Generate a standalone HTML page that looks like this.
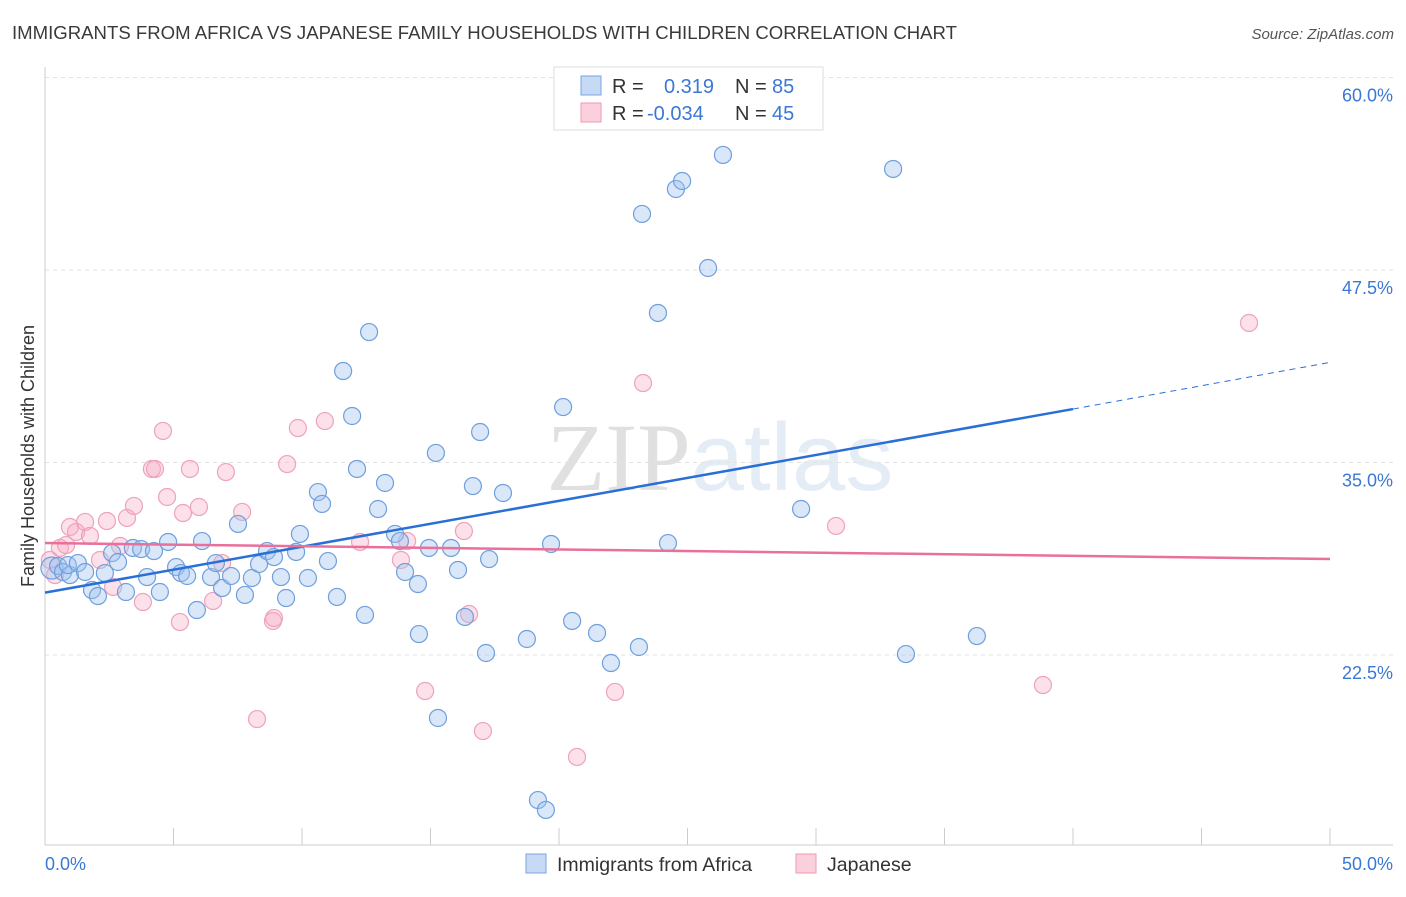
<!DOCTYPE html>
<html><head><meta charset="utf-8"><style>
body{margin:0;background:#fff;font-family:"Liberation Sans",sans-serif;}
svg text{font-family:"Liberation Sans",sans-serif;}
</style></head><body>
<svg id="chart" width="1406" height="892" xmlns="http://www.w3.org/2000/svg">
<text x="12" y="39" font-size="18" fill="#3a3a3a" textLength="945" lengthAdjust="spacingAndGlyphs">IMMIGRANTS FROM AFRICA VS JAPANESE FAMILY HOUSEHOLDS WITH CHILDREN CORRELATION CHART</text>
<text x="1394" y="39" font-size="15" fill="#555" text-anchor="end" font-style="italic">Source: ZipAtlas.com</text>
<text x="720" y="490" font-size="96" text-anchor="middle"><tspan font-family="Liberation Serif" fill="#e0e0e0">ZIP</tspan><tspan font-family="Liberation Sans" fill="#e4ecf6">atlas</tspan></text>
<g id="grid"></g>
<g id="axes"></g>
<g id="pts"></g>
<g id="trend"></g>
<text transform="translate(34,456) rotate(-90)" font-size="18" fill="#333" text-anchor="middle">Family Households with Children</text>
<g>
<rect x="554" y="67" width="269" height="63" fill="#fff" stroke="#ddd"/>
<rect x="581" y="76" width="20" height="19" fill="#c7daf5" stroke="#7aa6e0"/>
<text x="612" y="93" font-size="20" fill="#333">R =</text>
<text x="664" y="93" font-size="20" fill="#3a78d4">0.319</text>
<text x="735" y="93" font-size="20" fill="#333">N =</text>
<text x="772" y="93" font-size="20" fill="#3a78d4">85</text>
<rect x="581" y="103" width="20" height="19" fill="#fbd0dc" stroke="#ec9ab3"/>
<text x="612" y="120" font-size="20" fill="#333">R =</text>
<text x="647" y="120" font-size="20" fill="#3a78d4">-0.034</text>
<text x="735" y="120" font-size="20" fill="#333">N =</text>
<text x="772" y="120" font-size="20" fill="#3a78d4">45</text>
</g>
<g>
<rect x="526" y="854" width="20" height="19" fill="#c7daf5" stroke="#7aa6e0"/>
<text x="557" y="871" font-size="19.5" fill="#333">Immigrants from Africa</text>
<rect x="796" y="854" width="20" height="19" fill="#fbd0dc" stroke="#ec9ab3"/>
<text x="827" y="871" font-size="19.5" fill="#333">Japanese</text>
</g>
</svg>
<script>
const blueX=[0.27,0.51,0.70,0.97,0.89,1.28,1.56,1.83,2.06,2.33,2.61,2.84,3.15,3.42,3.74,3.97,4.24,4.47,4.79,5.10,5.29,5.53,5.91,6.11,6.46,6.65,6.89,7.24,7.51,7.78,8.05,8.33,8.64,8.91,9.18,9.38,9.77,9.92,10.23,10.62,10.78,11.01,11.36,11.60,11.95,12.14,12.45,12.61,12.96,13.23,13.62,13.81,14.01,14.51,14.55,14.94,15.21,15.29,15.80,16.07,16.34,16.65,16.93,17.16,17.28,17.82,18.75,19.18,19.49,19.69,20.16,20.51,21.48,22.02,23.11,23.23,23.85,24.24,24.55,24.79,25.80,26.38,29.42,33.00,33.50,36.26];
const blueY=[28.15,28.28,27.89,27.69,28.34,28.47,27.89,26.72,26.33,27.82,29.12,28.54,26.59,29.45,29.38,27.56,29.25,26.59,29.84,28.21,27.82,27.63,25.42,29.90,27.56,28.47,26.85,27.63,31.01,26.40,27.50,28.41,29.25,28.86,27.56,26.20,29.19,30.36,27.50,33.08,32.31,28.60,26.27,40.94,38.02,34.58,25.10,43.47,31.98,33.67,30.36,29.90,27.89,27.11,23.86,29.45,35.62,18.41,29.45,28.02,24.97,33.47,36.98,22.63,28.73,33.02,23.54,13.08,12.44,29.71,38.60,24.71,23.93,21.98,23.02,51.14,44.71,29.77,52.76,53.28,47.63,54.97,31.98,54.06,22.56,23.73];
const pinkX=[0.19,0.39,0.58,0.82,0.97,1.21,1.56,1.75,2.14,2.41,2.65,2.92,3.19,3.46,3.81,4.16,4.28,4.59,4.75,5.25,5.37,5.64,5.99,6.54,6.89,7.04,7.67,8.25,8.87,8.91,9.42,9.84,10.89,12.26,13.85,14.09,14.79,16.30,16.50,17.04,20.70,22.18,23.27,30.78,38.83,46.85];
const pinkY=[28.67,27.69,29.45,29.64,30.81,30.49,31.14,30.23,28.67,31.20,26.92,29.58,31.40,32.18,25.94,34.58,34.58,37.05,32.76,24.64,31.72,34.58,32.11,26.01,28.47,34.38,31.79,18.34,24.71,24.90,34.90,37.24,37.69,29.84,28.67,29.90,20.16,30.55,25.16,17.56,15.88,20.10,40.16,30.88,20.55,44.06];
const blueTrend=[26.55,38.47,41.5]; // at x=0, 40, 50
const pinkTrend=[29.77,28.73]; // at x=0, 50
const yTicks=[22.5,35.0,47.5,60.0];
const xTicks=[0,5,10,15,20,25,30,35,40,45,50];

const NS="http://www.w3.org/2000/svg";
const sx=v=>45+v*25.7;
const sy=v=>655-(v-22.5)*15.4;
function mk(tag,attrs,parent){const e=document.createElementNS(NS,tag);for(const k in attrs)e.setAttribute(k,attrs[k]);parent.appendChild(e);return e;}
const grid=document.getElementById('grid'),axes=document.getElementById('axes'),pts=document.getElementById('pts'),tr=document.getElementById('trend');
yTicks.forEach(t=>{
  const l=mk('line',{x1:45,x2:1393,y1:sy(t),y2:sy(t),stroke:'#e2e2e2','stroke-dasharray':'4,4'},grid);
  
  
  const tx=mk('text',{x:1393,y:sy(t)+24,'font-size':18,fill:'#3a78d4','text-anchor':'end'},grid);
  tx.textContent=t.toFixed(1)+'%';
  
  
});
const ax=mk('line',{x1:45,x2:45,y1:67,y2:845,stroke:'#ccc'},axes);


const bx=mk('line',{x1:45,x2:1393,y1:845,y2:845,stroke:'#ccc'},axes);


xTicks.forEach(t=>{
  const l=mk('line',{x1:sx(t),x2:sx(t),y1:828,y2:845,stroke:'#ccc'},axes);
  
  
});
[[0,'0.0%','start',45],[50,'50.0%','end',1393]].forEach(([v,s,a,x])=>{
  const tx=mk('text',{x:x,y:870,'font-size':18,fill:'#3a78d4','text-anchor':a},axes);
  tx.textContent=s;
  
  
});
pinkX.forEach((x,i)=>{
  const c=mk('circle',{cx:sx(x),cy:sy(pinkY[i]),r:8.5,fill:'rgba(246,170,196,0.35)',stroke:'#eea2bb','stroke-width':1.2},pts);
  
  
});
blueX.forEach((x,i)=>{
  const c=mk('circle',{cx:sx(x),cy:sy(blueY[i]),r:i==0?11:8.5,fill:'rgba(160,196,240,0.4)',stroke:'#6f9fdc','stroke-width':1.2},pts);
  
  
});
const b1=mk('line',{x1:sx(0),y1:sy(blueTrend[0]),x2:sx(40),y2:sy(blueTrend[1]),stroke:'#2a6fd6','stroke-width':2.5},tr);


const b2=mk('line',{x1:sx(40),y1:sy(blueTrend[1]),x2:sx(50),y2:sy(blueTrend[2]),stroke:'#2a6fd6','stroke-width':1,'stroke-dasharray':'6,5'},tr);


const p1=mk('line',{x1:sx(0),y1:sy(pinkTrend[0]),x2:sx(50),y2:sy(pinkTrend[1]),stroke:'#e8709a','stroke-width':2.5},tr);


</script>
</body></html>
